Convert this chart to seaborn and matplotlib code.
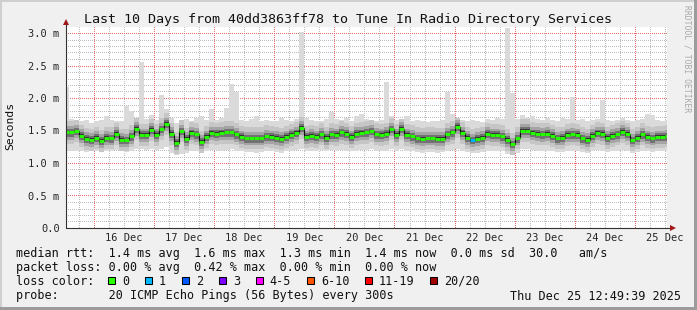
import matplotlib
matplotlib.use("Agg")
import matplotlib.pyplot as plt
import matplotlib.dates as mdates
from matplotlib.ticker import MultipleLocator, FuncFormatter
from matplotlib.patches import Rectangle
from matplotlib.colors import to_rgba
import numpy as np
import pandas as pd
import seaborn as sns

# ---------------- data ----------------
t_start = pd.Timestamp("2025-12-15 12:49:39")
t_end = pd.Timestamp("2025-12-25 12:49:39")
times = pd.date_range("2025-12-15 12:00", periods=121, freq="2h")

# median rtt per 2h bin (ms)
median = [
    1.47, 1.47, 1.49, 1.42, 1.37, 1.36, 1.39, 1.34, 1.39, 1.38, 1.45, 1.36, 1.35, 1.41, 1.53,
    1.43, 1.43, 1.51, 1.43, 1.52, 1.60, 1.45, 1.31, 1.49, 1.37, 1.46, 1.44, 1.33, 1.40, 1.46,
    1.45, 1.46, 1.47, 1.47, 1.44, 1.40, 1.38, 1.38, 1.38, 1.38, 1.41, 1.40, 1.39, 1.37, 1.40,
    1.43, 1.46, 1.54, 1.40, 1.42, 1.40, 1.44, 1.39, 1.44, 1.43, 1.47, 1.45, 1.40, 1.45, 1.46,
    1.47, 1.49, 1.44, 1.43, 1.45, 1.52, 1.43, 1.53, 1.43, 1.41, 1.38, 1.37, 1.38, 1.38, 1.37,
    1.37, 1.44, 1.47, 1.56, 1.46, 1.39, 1.35, 1.37, 1.39, 1.45, 1.43, 1.43, 1.41, 1.36, 1.29,
    1.38, 1.50, 1.50, 1.46, 1.45, 1.44, 1.45, 1.42, 1.38, 1.39, 1.43, 1.44, 1.43, 1.38, 1.36,
    1.42, 1.46, 1.45, 1.39, 1.42, 1.44, 1.48, 1.45, 1.35, 1.39, 1.44, 1.40, 1.38, 1.40, 1.40,
    1.41,
]
# lowest ping per bin (ms)
low = [
    1.18, 1.18, 1.19, 1.18, 1.17, 1.18, 1.18, 1.17, 1.19, 1.18, 1.20, 1.18, 1.17, 1.19, 1.22,
    1.21, 1.20, 1.22, 1.20, 1.21, 1.24, 1.16, 1.12, 1.14, 1.16, 1.18, 1.19, 1.15, 1.18, 1.20,
    1.20, 1.19, 1.20, 1.21, 1.19, 1.18, 1.17, 1.17, 1.16, 1.17, 1.18, 1.18, 1.17, 1.16, 1.18,
    1.19, 1.20, 1.22, 1.18, 1.19, 1.18, 1.20, 1.18, 1.20, 1.19, 1.20, 1.19, 1.18, 1.19, 1.20,
    1.20, 1.21, 1.19, 1.18, 1.19, 1.22, 1.18, 1.21, 1.19, 1.18, 1.17, 1.16, 1.17, 1.17, 1.16,
    1.17, 1.19, 1.20, 1.22, 1.19, 1.17, 1.15, 1.16, 1.17, 1.19, 1.18, 1.18, 1.18, 1.14, 1.13,
    1.16, 1.21, 1.21, 1.20, 1.19, 1.19, 1.19, 1.18, 1.17, 1.17, 1.18, 1.19, 1.18, 1.17, 1.16,
    1.18, 1.20, 1.19, 1.17, 1.18, 1.19, 1.20, 1.19, 1.16, 1.17, 1.19, 1.18, 1.17, 1.18, 1.18,
    1.18,
]
# highest ping per bin (ms)
high = [
    2.17, 1.68, 1.66, 1.64, 1.66, 1.62, 1.64, 1.66, 1.72, 1.66, 1.65, 1.64, 1.88, 1.80, 1.70,
    2.56, 1.68, 1.74, 1.66, 2.05, 1.83, 1.70, 1.62, 1.66, 1.68, 1.64, 1.70, 1.72, 1.66, 1.83,
    1.66, 1.70, 1.84, 2.22, 2.09, 1.66, 1.64, 1.68, 1.72, 1.64, 1.66, 1.65, 1.64, 1.70, 1.66,
    1.64, 1.67, 3.02, 1.70, 1.66, 1.65, 1.64, 1.67, 1.79, 1.68, 1.66, 1.70, 1.64, 1.72, 1.76,
    1.68, 1.66, 1.64, 1.66, 2.24, 1.72, 1.66, 1.68, 1.72, 1.64, 1.66, 1.64, 1.63, 1.65, 1.64,
    1.66, 2.10, 1.75, 1.70, 1.66, 1.64, 1.66, 1.64, 1.63, 1.68, 1.66, 1.70, 1.68, 3.08, 2.08,
    1.68, 1.74, 1.70, 1.72, 1.68, 1.66, 1.70, 1.66, 1.64, 1.69, 1.68, 2.02, 1.66, 1.68, 1.64,
    1.66, 1.68, 1.97, 1.66, 1.64, 1.66, 1.70, 1.66, 1.64, 1.66, 1.68, 1.75, 1.74, 1.66, 1.65,
    1.66,
]
# bins with packet loss (time, lost pings)
loss_times = [pd.Timestamp("2025-12-22 06:00")]
loss_counts = [1]

loss_labels = ["0", "1", "2", "3", "4-5", "6-10", "11-19", "20/20"]
loss_colors = ["#26ff00", "#00b8ff", "#0059ff", "#7e00ff", "#ff00ff", "#ff5500", "#ff0000", "#a10000"]

title = "Last 10 Days from 40dd3863ff78 to Tune In Radio Directory Services"
rtt_line = "median rtt:  1.4 ms avg  1.6 ms max  1.3 ms min  1.4 ms now  0.0 ms sd  30.0   am/s"
loss_line = "packet loss: 0.00 % avg  0.42 % max  0.00 % min  0.00 % now"
probe_line = "probe:       20 ICMP Echo Pings (56 Bytes) every 300s"
stamp = "Thu Dec 25 12:49:39 2025"

# ---------------- figure ----------------
W, H = 697, 310
AX_L, AX_B = 66, 82          # axes lower-left, display pixels
AX_W, AX_H = 601, 201
YMAX = 201 / 65
MONO = ["DejaVu Sans Mono"]
sns.set_style("white")
plt.rcParams["font.family"] = MONO

fig = plt.figure(figsize=(W / 100, H / 100), dpi=100, facecolor="#f0f0f0")

def fx(px):
    return px / W

def fy(py):
    return 1 - py / H

# 3D border
for (x0, y0, w, h, c) in [
    (0, 0, W, 2, "#cfcfcf"),
    (0, 0, 2, H, "#cfcfcf"),
    (W - 3, 0, 3, H, "#9c9c9c"),
    (0, H - 3, W, 3, "#9c9c9c"),
]:
    fig.add_artist(Rectangle((fx(x0), fy(y0 + h)), w / W, h / H, transform=fig.transFigure,
                             facecolor=c, edgecolor="none", zorder=0))
# white canvas behind the (transparent) axes
fig.add_artist(Rectangle((AX_L / W, AX_B / H), AX_W / W, AX_H / H, transform=fig.transFigure,
                         facecolor="white", edgecolor="none", zorder=0.5))

# dotted rrdtool-style grid as an unresampled pixel image (1 px on / 1 px off)
x0n = mdates.date2num(t_start)
x1n = mdates.date2num(t_end)
grid_img = np.zeros((AX_H, AX_W, 4))
minor_c = np.array(to_rgba("#bdbdbd"))
major_c = np.array(to_rgba("#e46a6a"))
for major in (False, True):
    col = major_c if major else minor_c
    for k in range(1, 31):
        if (k % 5 == 0) != major:
            continue
        row = int(round(AX_H - (k / 10) / YMAX * AX_H))
        if 0 <= row < AX_H:
            grid_img[row, 0::2] = col
    for hday in pd.date_range("2025-12-15 18:00", "2025-12-25 12:00", freq="6h"):
        if (hday.hour == 0) != major:
            continue
        c_ = int(round((mdates.date2num(hday) - x0n) / (x1n - x0n) * AX_W))
        if 0 <= c_ < AX_W:
            grid_img[0::2, c_] = col
fig.figimage(grid_img, xo=AX_L, yo=AX_B, origin="upper", zorder=0.8)

ax = fig.add_axes([AX_L / W, AX_B / H, AX_W / W, AX_H / H])
ax.set_zorder(2)
ax.patch.set_visible(False)

tt = list(times) + [t_end]
med_e = np.array(median + [median[-1]])
low_e = np.array(low + [low[-1]])
high_e = np.array(high + [high[-1]])

# smoke layers (outer = min..max, inner layers around the median)
ax.fill_between(tt, low_e, high_e, step="post", color="#dadada", lw=0, zorder=1)
layers = [(0.17, 0.17, "#c6c6c6"), (0.11, 0.10, "#a4a4a4"), (0.065, 0.055, "#727272"),
          (0.03, 0.025, "#353535")]
for dn, up, c in layers:
    lo_b = np.maximum(med_e - dn, low_e)
    hi_b = np.minimum(med_e + up, high_e)
    ax.fill_between(tt, lo_b, hi_b, step="post", color=c, lw=0, zorder=1.1)

# median: thin black steps + green horizontal ticks
df = pd.DataFrame({"time": times, "median": median})
sns.lineplot(data=df, x="time", y="median", drawstyle="steps-post", color="#111111",
             lw=0.8, ax=ax, zorder=3)
seg_colors = []
for t in times:
    c = loss_colors[0]
    for lt, lc in zip(loss_times, loss_counts):
        if lt == t:
            c = loss_colors[min(lc, 3)]
    seg_colors.append(c)
ax.hlines(median, tt[:-1], tt[1:], colors=seg_colors, lw=2.1, zorder=4)

ax.set_xlim(t_start, t_end)
ax.set_ylim(0, YMAX)
ax.set_xlabel("")
ax.set_ylabel("")

# ticks / labels
ax.xaxis.set_major_locator(mdates.DayLocator())
ax.xaxis.set_major_formatter(FuncFormatter(lambda v, p: ""))
ax.xaxis.set_minor_locator(mdates.HourLocator(byhour=[12]))
ax.xaxis.set_minor_formatter(FuncFormatter(lambda v, p: f"{mdates.num2date(v).day} Dec"))
ax.yaxis.set_major_locator(MultipleLocator(0.5))
ax.yaxis.set_major_formatter(FuncFormatter(lambda v, p: "0.0" if abs(v) < 1e-9 else f"{v:.1f} m"))
ax.grid(False)

ax.tick_params(axis="both", which="major", length=2, width=0.75, color="#333333",
               labelsize=7.5, pad=2.5, direction="out")
ax.tick_params(axis="x", which="minor", length=0, labelsize=7.5, pad=3.5)
for lab in ax.get_xticklabels(minor=True) + ax.get_yticklabels():
    lab.set_fontfamily(MONO)

for s in ax.spines.values():
    s.set_visible(False)

# axes with arrowheads
ax.plot([0, 0], [0, 1.027], transform=ax.transAxes, color="#333333", lw=0.8, clip_on=False, zorder=6)
ax.plot([0, 1.01], [0, 0], transform=ax.transAxes, color="#333333", lw=0.8, clip_on=False, zorder=6)
ax.plot([0], [1.027], marker="^", ms=4.5, color="#a01818", transform=ax.transAxes,
        clip_on=False, zorder=7, mew=0)
ax.plot([1.01], [0], marker=">", ms=4.5, color="#a01818", transform=ax.transAxes,
        clip_on=False, zorder=7, mew=0)

# texts
fig.text(0.5, fy(19), title, ha="center", va="center", fontsize=9.6, family=MONO, color="#111111")
fig.text(fx(10.5), fy(126), "Seconds", rotation=90, ha="center", va="center", fontsize=8.2,
         family=MONO, color="#111111")
fig.text(fx(687), fy(59), "RRDTOOL / TOBI OETIKER", rotation=270, ha="center", va="center",
         fontsize=5.8, family=MONO, color="#a8a8a8")

fig.text(fx(16), fy(253.5), rtt_line, ha="left", va="center", fontsize=8.5, family=MONO, color="#111111")
fig.text(fx(16), fy(268), loss_line, ha="left", va="center", fontsize=8.5, family=MONO, color="#111111")
fig.text(fx(16), fy(281.5), "loss color:", ha="left", va="center", fontsize=8.5, family=MONO, color="#111111")
fig.text(fx(16), fy(296), probe_line, ha="left", va="center", fontsize=8.5, family=MONO, color="#111111")
fig.text(fx(681), fy(296), stamp, ha="right", va="center", fontsize=8.5, family=MONO, color="#111111")

bx = 108.3
for lab, col in zip(loss_labels, loss_colors):
    fig.add_artist(Rectangle((fx(bx), fy(284)), 7 / W, 7 / H, transform=fig.transFigure,
                             facecolor=col, edgecolor="black", lw=0.75, zorder=3))
    fig.text(fx(bx + 13.5), fy(281.5), lab, ha="left", va="center", fontsize=8.5, family=MONO,
             color="#111111")
    bx += 37.0 + (len(lab) - 1) * 7.0

fig.savefig("out.png", dpi=100, facecolor=fig.get_facecolor())
